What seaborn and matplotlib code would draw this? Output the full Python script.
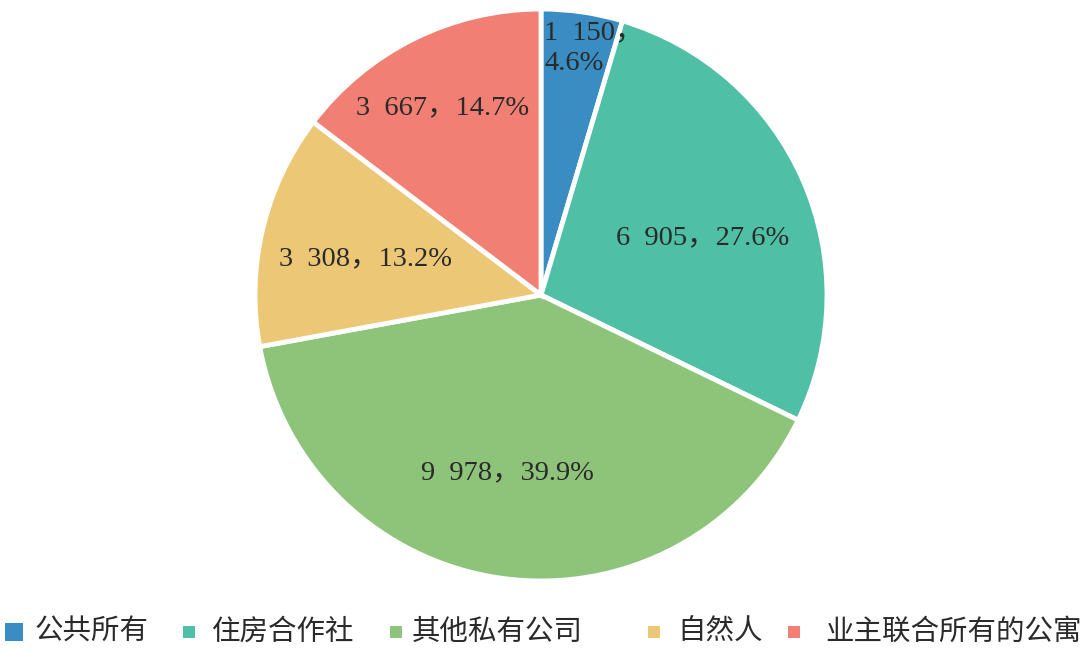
import numpy as np
import seaborn as sns
import matplotlib.pyplot as plt
from matplotlib.patches import Rectangle

sns.set_theme(style="white")
plt.rcParams['font.family'] = ['Noto Sans CJK SC', 'DejaVu Sans']

# data
owners = ['公共所有', '住房合作社', '其他私有公司', '自然人', '业主联合所有的公寓']
counts = [1150, 6905, 9978, 3308, 3667]
shares = [4.6, 27.6, 39.9, 13.2, 14.7]
colors = ['#3a8dc2', '#4fc0a5', '#8ec37a', '#ecc776', '#f17f74']

# label placement per slice: fraction of radius, angle nudge in degrees
label_r = [0.88, 0.60, 0.633, 0.625, 0.74]
label_dt = [0, -4.4, -2.8, 1.7, 1.3]

fig = plt.figure(figsize=(10.8, 6.52), dpi=100)
ax = fig.add_axes([255 / 1080, 71 / 652, 572 / 1080, 572 / 652])

wedges, _ = ax.pie(counts, colors=colors, startangle=90, counterclock=False,
                   radius=1, wedgeprops=dict(edgecolor='white', linewidth=3.5))
ax.set_xlim(-1, 1)
ax.set_ylim(-1, 1)
ax.axis('off')

serif = ['Liberation Serif', 'Noto Sans CJK SC']
for i, w in enumerate(wedges):
    ang = np.deg2rad((w.theta1 + w.theta2) / 2 + label_dt[i])
    x, y = label_r[i] * np.cos(ang), label_r[i] * np.sin(ang)
    num = f"{counts[i]:,}".replace(',', '\u2002')
    if i == 0:
        txt = f"{num}，\n{shares[i]}%"
        ax.text(0.012, 0.862, txt, ha='left', va='center', fontsize=20.5,
                family=serif, color='#2a2a2a', linespacing=1.3)
    else:
        txt = f"{num}，{shares[i]}%"
        ax.text(x, y, txt, ha='center', va='center', fontsize=20.5,
                family=serif, color='#2a2a2a')

# legend row drawn in figure pixels
marker_x = [5, 183, 390, 648, 788]
marker_s = [18, 12, 12, 12, 12]
text_x = [35, 212, 412, 677, 825]
ly = 632
for i, name in enumerate(owners):
    s = marker_s[i]
    fig.patches.append(Rectangle((marker_x[i] / 1080, (652 - ly - s / 2) / 652),
                                 s / 1080, s / 652, transform=fig.transFigure,
                                 facecolor=colors[i], edgecolor='none'))
    fig.text(text_x[i] / 1080, (652 - ly) / 652, name, ha='left', va='center',
             fontsize=20.5, color='#2a2a2a')

fig.savefig('out.png', dpi=100)
